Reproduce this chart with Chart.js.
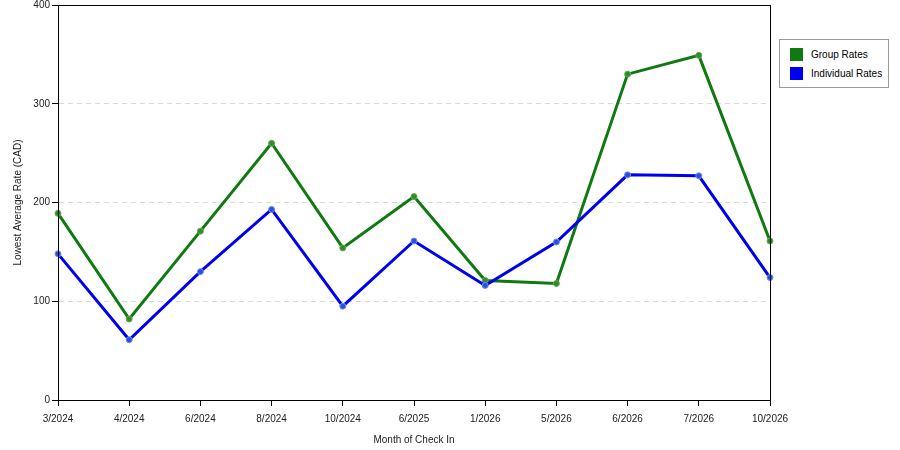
<!DOCTYPE html>
<html>
<head>
<meta charset="utf-8">
<script src="https://cdn.jsdelivr.net/npm/chart.js@4"></script>
<style>
  body { margin: 0; background: #fff; }
  #wrap { position: relative; width: 900px; height: 450px; }
  #legend {
    position: absolute; left: 779px; top: 39px; width: 108px; height: 47px;
    border: 1px solid #999; background: #fff;
    font: 10px "Liberation Sans", Arial, sans-serif; color: #000;
  }
  #legend div { position: relative; height: 19px; line-height: 13px; padding-left: 31px; }
  #legend div:first-child { margin-top: 8px; }
  #legend span { position: absolute; left: 10px; top: 0; width: 13px; height: 13px; }
</style>
</head>
<body>
<div id="wrap">
  <canvas id="chart" width="900" height="450"></canvas>
  <div id="legend"></div>
</div>
<script>
const months = ["3/2024", "4/2024", "6/2024", "8/2024", "10/2024", "6/2025", "1/2026", "5/2026", "6/2026", "7/2026", "10/2026"];
const groupRates = [189, 82, 171, 260, 154, 206, 121, 118, 330, 349, 161];
const individualRates = [148, 61, 130, 193, 95, 161, 116, 160, 228, 227, 124];
const yTicks = [0, 100, 200, 300, 400];

const font = { family: "'Liberation Sans', Arial, sans-serif", size: 10 };

const legendItems = [
  { label: "Group Rates", color: "#0f7a0f" },
  { label: "Individual Rates", color: "#0000f0" }
];
document.getElementById("legend").innerHTML = legendItems
  .map(it => `<div><span style="background:${it.color}"></span>${it.label}</div>`)
  .join("");

const frame = {
  id: "frame",
  afterDraw(c) {
    const a = c.chartArea, ctx = c.ctx;
    ctx.save();
    ctx.strokeStyle = "#000";
    ctx.lineWidth = 1;
    ctx.setLineDash([]);
    ctx.strokeRect(Math.round(a.left) + 0.5, Math.round(a.top) + 0.5, Math.round(a.right - a.left), Math.round(a.bottom - a.top));
    ctx.restore();
  }
};

new Chart(document.getElementById("chart").getContext("2d"), {
  type: "line",
  data: {
    labels: months,
    datasets: [{
      label: "Group Rates",
      data: groupRates,
      borderColor: "#0f7a0f",
      backgroundColor: "#2e8b2e",
      pointBorderColor: "#6aa84f",
      borderWidth: 3,
      pointRadius: 3,
      pointBorderWidth: 1,
      tension: 0,
      order: 2
    }, {
      label: "Individual Rates",
      data: individualRates,
      borderColor: "#0000f0",
      backgroundColor: "#2a4fe0",
      pointBorderColor: "#6f8ff0",
      borderWidth: 3,
      pointRadius: 3,
      pointBorderWidth: 1,
      tension: 0,
      order: 1
    }]
  },
  options: {
    responsive: false,
    animation: false,
    layout: { padding: { top: 5, right: 130, left: 0, bottom: 0 } },
    plugins: { legend: { display: false }, tooltip: { enabled: false } },
    scales: {
      x: {
        offset: false,
        border: { color: "#000" },
        grid: { drawOnChartArea: false, tickLength: 6, tickColor: "#000" },
        ticks: { font, color: "#222", maxRotation: 0, autoSkip: false, padding: 7 },
        title: { display: true, text: "Month of Check In", font, color: "#222", padding: { top: 2 } },
        afterFit(s) { s.height = 50; }
      },
      y: {
        min: 0, max: 400,
        afterBuildTicks(s) { s.ticks = yTicks.map(v => ({ value: v })); },
        border: { color: "#000", dash: [5, 4] },
        grid: {
          color: "#d8d8d8", tickLength: 6,
          tickColor: "#000", tickBorderDash: [], tickWidth: 1
        },
        ticks: { font, color: "#222", padding: 2 },
        title: { display: true, text: "Lowest Average Rate (CAD)", font, color: "#222", padding: { top: 12, bottom: 4 } },
        afterFit(s) { s.width = 58; s.paddingTop = 0; s.paddingBottom = 0; }
      }
    }
  },
  plugins: [frame]
});
</script>
</body>
</html>
